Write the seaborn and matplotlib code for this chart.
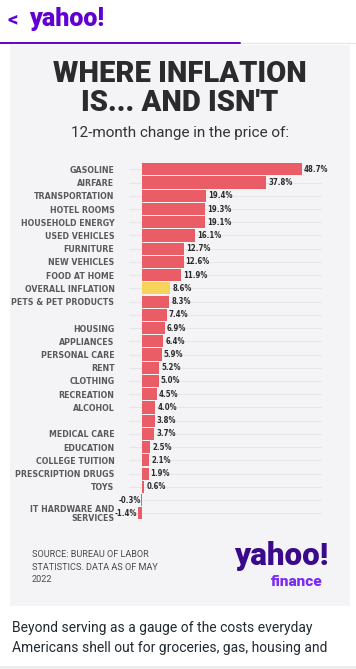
import matplotlib
matplotlib.use("Agg")
import matplotlib.pyplot as plt
from matplotlib.patches import Rectangle
from matplotlib.lines import Line2D
import seaborn as sns
import pandas as pd

# ---- data ----
labels = ["GASOLINE", "AIRFARE", "TRANSPORTATION", "HOTEL ROOMS", "HOUSEHOLD ENERGY",
          "USED VEHICLES", "FURNITURE", "NEW VEHICLES", "FOOD AT HOME", "OVERALL INFLATION",
          "PETS & PET PRODUCTS", "", "HOUSING", "APPLIANCES", "PERSONAL CARE", "RENT",
          "CLOTHING", "RECREATION", "ALCOHOL", "", "MEDICAL CARE", "EDUCATION",
          "COLLEGE TUITION", "PRESCRIPTION DRUGS", "TOYS", "", "IT HARDWARE AND\nSERVICES"]
values = [48.7, 37.8, 19.4, 19.3, 19.1, 16.1, 12.7, 12.6, 11.9, 8.6, 8.3, 7.4, 6.9, 6.4,
          5.9, 5.2, 5.0, 4.5, 4.0, 3.8, 3.7, 2.5, 2.1, 1.9, 0.6, -0.3, -1.4]
highlight = "OVERALL INFLATION"

title_lines = ["WHERE INFLATION", "IS... AND ISN'T"]
subtitle = "12-month change in the price of:"
source = "SOURCE: BUREAU OF LABOR\nSTATISTICS. DATA AS OF MAY\n2022"
body = "Beyond serving as a gauge of the costs everyday\nAmericans shell out for groceries, gas, housing and"

W, H = 356, 669
RED, YEL = "#ea5d66", "#f6d35a"
PURPLE = "#6001d2"

sns.set_theme(style="white")
plt.rcParams["font.family"] = ["Roboto", "DejaVu Sans"]

fig = plt.figure(figsize=(W / 100, H / 100), dpi=100)
fig.patch.set_facecolor("white")

def fx(px):
    return px / W

def fy(py):
    return 1 - py / H

# card background
fig.patches.append(Rectangle((fx(10), fy(606)), fx(340), 561 / H, transform=fig.transFigure,
                             facecolor="#f4f4f6", edgecolor="none", zorder=-5))
# header divider
fig.lines.append(Line2D([0, 1], [fy(42.5)] * 2, transform=fig.transFigure, color="#e6e6e8", lw=0.8, zorder=-4))
fig.lines.append(Line2D([0, fx(240)], [fy(42.5)] * 2, transform=fig.transFigure, color=PURPLE, lw=1.4, zorder=-3))
fig.lines.append(Line2D([0, 1], [fy(667)] * 2, transform=fig.transFigure, color="#ececee", lw=2, zorder=-4))

# header
fig.text(fx(7), fy(20), "<", color=PURPLE, fontsize=15, fontweight="bold", va="center", ha="left")
fig.text(fx(29), fy(19), "yahoo!", color=PURPLE, fontsize=18, fontweight="black",
         va="center", ha="left")

# titles
fig.text(fx(180), fy(74), title_lines[0], ha="center", va="center", fontsize=21,
         fontweight="black", color="#2b2b2d")
fig.text(fx(180), fy(103), title_lines[1], ha="center", va="center", fontsize=21,
         fontweight="black", color="#2b2b2d")
fig.text(fx(180), fy(133), subtitle, ha="center", va="center", fontsize=11, color="#333333")

# bar chart
keys = [f"k{i}" for i in range(len(labels))]
df = pd.DataFrame({"key": keys, "label": labels, "value": values})
palette = {k: (YEL if l == highlight else RED) for k, l in zip(keys, labels)}

top, bot = 169.3 - 6.6, 513.3 + 6.6
ax = fig.add_axes([fx(129.2), fy(bot), fx(322.3) - fx(129.2), (bot - top) / H])
ax.set_facecolor("none")
sns.barplot(data=df, y="key", x="value", hue="key", palette=palette, order=keys,
            orient="h", width=0.92, legend=False, linewidth=0, saturation=1, ax=ax, zorder=3)
ax.set_xlim(-4, 55)
ax.set_ylim(len(keys) - 0.5, -0.5)
ax.set_xlabel("")
ax.set_ylabel("")
ax.set_xticks([])
ax.set_yticks(range(len(keys)))
lab_font = dict(family=["DejaVu Sans"], stretch="condensed", weight="bold", size=6.3)
val_font = dict(family=["DejaVu Sans"], stretch="condensed", weight="bold", size=5.6)
ax.set_yticklabels(labels, color="#5a5a5c", linespacing=1.0, **lab_font)
ax.tick_params(axis="y", length=0, pad=10.6)
for s in ax.spines.values():
    s.set_visible(False)
for i in range(len(keys)):
    ax.axhline(i, color="#e7e7ea", lw=0.8, zorder=1)
for c in ax.containers:
    pad = 0.5 if c.datavalues[0] < 0 else 1.5
    ax.bar_label(c, fmt="%.1f%%", padding=pad, color="#2a2a2a", **val_font)

# source & logo
fig.text(fx(32), fy(567), source, ha="left", va="center", fontsize=6.6,
         color="#4a4a4a", linespacing=1.45)
fig.text(fx(329), fy(556), "yahoo!", ha="right", va="center", fontsize=22.5, fontweight="black",
         color="#3b0a8c")
fig.text(fx(323), fy(582.5), "finance", ha="right", va="center", fontsize=11, fontweight="black",
         color="#7b2cf5")

# body text
fig.text(fx(12), fy(638), body, ha="left", va="center", fontsize=10, color="#232a31",
         linespacing=1.55)

fig.savefig("out.png", dpi=100)
